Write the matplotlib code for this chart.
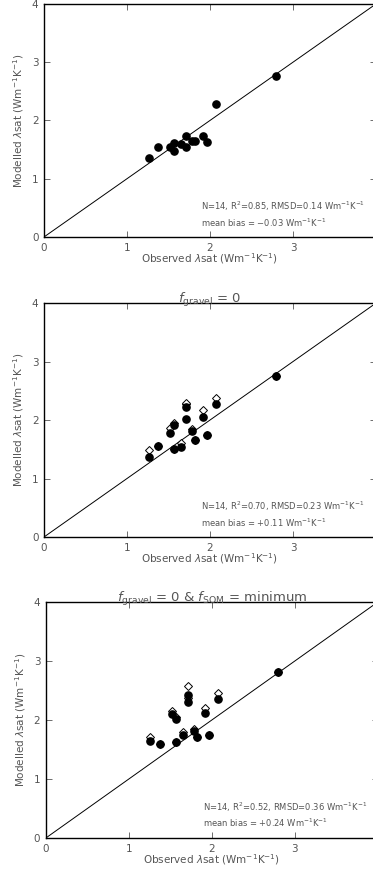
import matplotlib
matplotlib.use("Agg")
import matplotlib.pyplot as plt

# observed saturated thermal conductivity (same sites in every panel)
observed = [1.26, 1.37, 1.52, 1.57, 1.57, 1.65, 1.71, 1.71, 1.78, 1.82, 1.92, 1.96, 2.07, 2.80]

# panel 1: default model
modelled_1 = [1.35, 1.55, 1.55, 1.62, 1.48, 1.60, 1.73, 1.55, 1.64, 1.64, 1.74, 1.63, 2.28, 2.77]

# panel 2: f_gravel = 0
modelled_2 = [1.37, 1.56, 1.77, 1.91, 1.50, 1.54, 2.02, 2.23, 1.82, 1.66, 2.05, 1.74, 2.28, 2.76]
open_2 = [1.48, 1.56, 1.86, 1.95, 1.50, 1.61, 2.28, 2.30, 1.85, 1.66, 2.17, 1.74, 2.37, 2.76]

# panel 3: f_gravel = 0 & f_SOM = minimum
modelled_3 = [1.65, 1.59, 2.10, 2.01, 1.63, 1.74, 2.31, 2.43, 1.82, 1.71, 2.11, 1.75, 2.36, 2.82]
open_3 = [1.72, 1.59, 2.16, 2.05, 1.63, 1.79, 2.37, 2.58, 1.85, 1.71, 2.21, 1.75, 2.45, 2.82]

titles = ["", r"$f_{\rm gravel}$ = 0", r"$f_{\rm gravel}$ = 0 & $f_{\rm SOM}$ = minimum"]
stats = ["N=14, R$^2$=0.85, RMSD=0.14 Wm$^{-1}$K$^{-1}$",
         "N=14, R$^2$=0.70, RMSD=0.23 Wm$^{-1}$K$^{-1}$",
         "N=14, R$^2$=0.52, RMSD=0.36 Wm$^{-1}$K$^{-1}$"]
biases = ["mean bias = $-$0.03 Wm$^{-1}$K$^{-1}$",
          "mean bias = +0.11 Wm$^{-1}$K$^{-1}$",
          "mean bias = +0.24 Wm$^{-1}$K$^{-1}$"]

grey = "#555555"
plt.rcParams["font.family"] = ["DejaVu Sans"]
plt.rcParams["mathtext.fontset"] = "dejavusans"

fig = plt.figure(figsize=(3.73, 8.76), dpi=100)
boxes = [(0.118, 0.7295, 0.890, 0.266),
         (0.118, 0.387, 0.890, 0.267),
         (0.123, 0.0434, 0.890, 0.2694)]
filled = [modelled_1, modelled_2, modelled_3]
opens = [None, open_2, open_3]

for i, box in enumerate(boxes):
    ax = fig.add_axes(box)
    ax.plot([0, 4], [0, 4], color="black", lw=0.7)
    if opens[i] is not None:
        ax.plot(observed, opens[i], "D", ms=4.2, mfc="white", mec="black", mew=0.7, ls="none")
    ax.plot(observed, filled[i], "o", ms=5.2, color="black", ls="none")
    ax.set_xlim(0, 4)
    ax.set_ylim(0, 4)
    ax.set_xticks([0, 1, 2, 3])
    ax.set_yticks([0, 1, 2, 3, 4])
    ax.tick_params(direction="in", top=True, right=True, length=4, width=0.6,
                   color=grey, labelcolor=grey, labelsize=7.5, pad=4)
    for s in ax.spines.values():
        s.set_linewidth(1.0)
    ax.set_xlabel(r"Observed $\lambda$sat (Wm$^{-1}$K$^{-1}$)", color=grey, fontsize=7.5, labelpad=-1)
    ax.set_ylabel(r"Modelled $\lambda$sat (Wm$^{-1}$K$^{-1}$)", color=grey, fontsize=7.5, labelpad=4)
    ax.text(1.89, 0.52, stats[i], color=grey, fontsize=6.0, ha="left", va="center")
    ax.text(1.89, 0.25, biases[i], color=grey, fontsize=6.0, ha="left", va="center")
    if titles[i]:
        ax.set_title(titles[i], color=grey, fontsize=9.5, pad=0)

fig.savefig("out.png", dpi=100)
